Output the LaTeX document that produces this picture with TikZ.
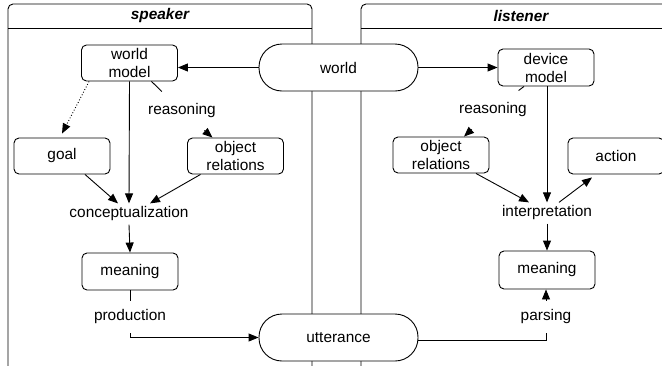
\documentclass[tikz,border=0pt]{standalone}
\usepackage{fontspec}
\setmainfont{Liberation Sans}
\usetikzlibrary{arrows.meta}

\begin{document}
\begin{tikzpicture}[x=1pt, y=-1pt, line width=0.9pt,
  every node/.style={font=\fontsize{15.4}{18}\selectfont},
  box/.style={draw, fill=white, rounded corners=5pt, align=center,
    minimum width=96pt, minimum height=36pt, inner sep=0pt},
  pill/.style={draw, fill=white, rounded corners=23pt,
    minimum width=159pt, minimum height=47pt},
  proc/.style={inner sep=3pt},
  edgelbl/.style={inner sep=2pt, minimum height=32pt},
  reaslbl/.style={inner sep=2pt, minimum height=38pt},
  title/.style={font=\fontsize{15.4}{18}\selectfont\bfseries\itshape},
  arr/.style={-{Triangle[length=10pt,width=8pt]}}]
  \useasboundingbox (0,0) rectangle (662,365);
  \clip (0,0) rectangle (662,365);

  \draw[rounded corners=5pt] (8,4) rectangle (312,380);
  \draw (8,28) -- (312,28);
  \node[title] (spk) at (160,16) {speaker};
  \draw[rounded corners=5pt] (361,4) rectangle (681,380);
  \draw (361,28) -- (681,28);
  \node[title] (lst) at (521,16) {listener};

  \node[pill] (world) at (338.5,67.5) {world};
  \node[pill] (utt) at (338.5,337.5) {utterance};

  \node[box] (wm) at (129.5,63) {world\\model};
  \node[box] (goal) at (62,156) {goal};
  \node[box] (ors) at (235.5,156) {object\\relations};
  \node[proc] (conc) at (129,214) {conceptualization};
  \node[box, minimum height=37pt] (means) at (130,271.5) {meaning};
  \node[edgelbl] (prod) at (130,317) {production};
  \node[reaslbl] (reass) at (182,111) {reasoning};

  \node[box, minimum height=37pt] (dm) at (546,67.5) {device\\model};
  \node[box] (orl) at (441,155) {object\\relations};
  \node[box] (act) at (616,156) {action};
  \node[proc] (interp) at (547,213) {interpretation};
  \node[box, minimum height=38pt] (meanl) at (547,270) {meaning};
  \node[edgelbl] (pars) at (546,317) {parsing};
  \node[reaslbl] (reasl) at (493,110) {reasoning};

  \draw[arr] (world.west) -- (world.west -| wm.east);
  \draw[arr] (world.east) -- (world.east -| dm.west);

  \draw[arr, dotted] ([xshift=8pt]wm.south west) -- ([yshift=4pt]goal.north);
  \draw ([xshift=22pt]wm.south) -- (reass);
  \draw[arr] (reass) -- ([xshift=-23pt]ors.north);
  \draw[arr] (wm.south) -- (conc.north);
  \draw[arr] ([xshift=23pt]goal.south) -- ([xshift=-11pt]conc.north);
  \draw[arr] ([xshift=-35pt]ors.south) -- ([xshift=21pt]conc.north);
  \draw[arr] (conc.south) -- (means.north);
  \draw (means.south) -- (prod.north);
  \draw[arr] (prod.south) |- (utt.west);

  \draw ([xshift=-22pt]dm.south) -- (reasl);
  \draw[arr] (reasl) -- ([xshift=23pt]orl.north);
  \draw[arr] (dm.south -| interp.north) -- (interp.north);
  \draw[arr] ([xshift=35pt]orl.south) -- ([xshift=-18pt]interp.north);
  \draw[arr] ([xshift=12pt]interp.north) -- ([xshift=-24pt,yshift=-3pt]act.south);
  \draw[arr] (interp.south) -- (interp.south |- meanl.north);
  \draw ([yshift=-3pt]utt.east) -| (pars.south);
  \draw[arr] (pars.north) -- (pars.north |- meanl.south);
\end{tikzpicture}
\end{document}
